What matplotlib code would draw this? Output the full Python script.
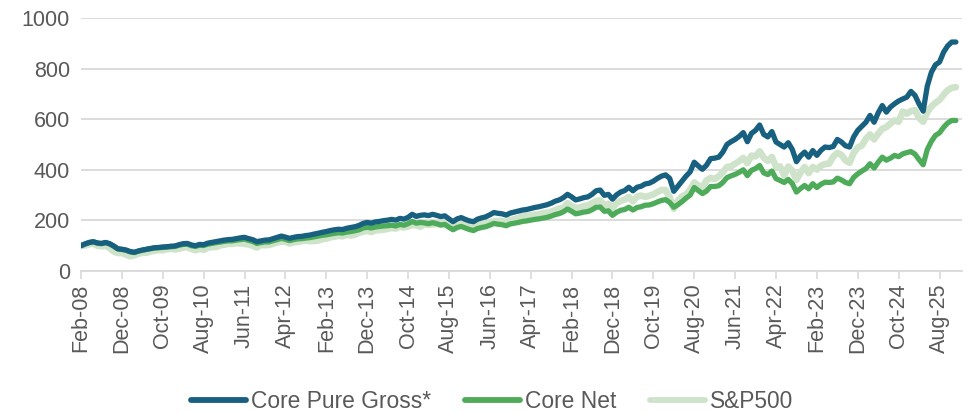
import matplotlib
matplotlib.use("Agg")
import matplotlib.pyplot as plt
import numpy as np

# Monthly categories Feb-08 .. Dec-25 (215 months)
start_year, start_month, n_months = 2008, 2, 215
month_names = ["Jan", "Feb", "Mar", "Apr", "May", "Jun", "Jul", "Aug", "Sep", "Oct", "Nov", "Dec"]

tick_labels = ["Feb-08", "Dec-08", "Oct-09", "Aug-10", "Jun-11", "Apr-12", "Feb-13", "Dec-13",
               "Oct-14", "Aug-15", "Jun-16", "Apr-17", "Feb-18", "Dec-18", "Oct-19", "Aug-20",
               "Jun-21", "Apr-22", "Feb-23", "Dec-23", "Oct-24", "Aug-25"]

core_pure_gross = [
    100, 107, 113, 116, 111, 109, 113, 108, 99, 88, 86,
    83, 77, 74, 79, 83, 86, 89, 92, 93, 95, 96, 98,
    99, 104, 108, 109, 103, 100, 105, 104, 110, 113, 116, 119,
    122, 124, 125, 128, 131, 133, 128, 124, 116, 119, 122, 123,
    128, 133, 138, 134, 129, 133, 136, 137, 140, 142, 146, 149,
    153, 156, 160, 163, 165, 164, 169, 172, 175, 180, 188, 192,
    189, 194, 196, 199, 201, 204, 201, 208, 205, 212, 224, 216,
    220, 222, 219, 224, 220, 215, 218, 206, 195, 206, 211, 204,
    198, 195, 205, 210, 214, 222, 231, 228, 226, 221, 229, 233,
    237, 241, 243, 247, 251, 254, 258, 262, 268, 276, 281, 290,
    303, 293, 281, 285, 290, 293, 303, 317, 320, 299, 303, 284,
    301, 312, 318, 331, 317, 331, 335, 344, 347, 355, 366, 375,
    380, 366, 315, 335, 355, 375, 392, 430, 415, 402, 418, 444,
    446, 450, 470, 500, 511, 520, 532, 547, 511, 544, 556, 577,
    540, 530, 551, 510, 500, 490, 507, 480, 432, 455, 470, 450,
    476, 457, 477, 490, 488, 492, 520, 510, 495, 490, 530, 556,
    572, 588, 615, 588, 625, 654, 628, 648, 661, 672, 680, 687,
    710, 694, 660, 632, 730, 785, 815, 826, 865, 890, 905, 905,
]

core_net = [
    100, 107, 112, 115, 110, 108, 112, 107, 98, 87, 85,
    82, 76, 73, 78, 82, 85, 88, 91, 92, 93, 94, 96,
    97, 102, 105, 106, 100, 97, 102, 101, 106, 109, 112, 114,
    117, 119, 119, 122, 124, 126, 121, 117, 109, 112, 115, 115,
    120, 124, 129, 125, 120, 124, 127, 128, 130, 132, 135, 138,
    141, 143, 146, 149, 151, 150, 154, 156, 159, 163, 170, 173,
    170, 174, 176, 178, 179, 181, 178, 184, 181, 187, 196, 189,
    192, 190, 187, 191, 187, 182, 184, 173, 163, 172, 176, 170,
    164, 160, 168, 172, 175, 181, 188, 185, 183, 179, 186, 189,
    192, 196, 198, 201, 204, 206, 209, 212, 217, 223, 227, 234,
    245, 236, 226, 229, 233, 235, 242, 252, 253, 236, 238, 220,
    232, 240, 243, 252, 241, 251, 254, 260, 261, 266, 273, 279,
    282, 271, 252, 262, 274, 288, 300, 330, 318, 306, 316, 334,
    334, 337, 350, 369, 376, 382, 390, 400, 377, 398, 405, 417,
    388, 381, 395, 365, 358, 350, 362, 345, 312, 326, 338, 325,
    345, 330, 343, 351, 350, 352, 367, 360, 350, 345, 370, 384,
    395, 405, 424, 407, 430, 450, 438, 446, 457, 452, 463, 468,
    472, 462, 440, 420, 480, 512, 536, 546, 568, 585, 595, 595,
]

sp500 = [
    100, 101, 106, 108, 100, 98, 99, 91, 77, 71, 71,
    65, 58, 62, 68, 72, 72, 77, 80, 83, 82, 86, 88,
    85, 88, 93, 94, 87, 82, 88, 84, 92, 95, 95, 101,
    104, 107, 107, 110, 109, 107, 105, 100, 93, 103, 102, 103,
    108, 113, 116, 116, 109, 113, 115, 118, 121, 118, 119, 120,
    126, 128, 133, 136, 139, 137, 144, 140, 144, 151, 155, 159,
    154, 161, 162, 163, 167, 170, 168, 175, 172, 176, 181, 181,
    175, 185, 182, 184, 186, 183, 187, 176, 171, 185, 186, 183,
    174, 174, 186, 186, 190, 190, 197, 198, 198, 194, 201, 205,
    209, 218, 218, 220, 223, 224, 229, 230, 235, 240, 247, 250,
    268, 257, 250, 251, 257, 259, 268, 277, 279, 260, 265, 248,
    268, 277, 282, 293, 275, 294, 298, 293, 297, 303, 312, 320,
    320, 292, 246, 278, 295, 303, 322, 350, 338, 330, 358, 368,
    364, 374, 391, 411, 414, 424, 434, 447, 426, 456, 453, 473,
    448, 435, 451, 412, 413, 378, 413, 396, 360, 389, 411, 387,
    411, 401, 416, 423, 424, 452, 467, 459, 437, 428, 467, 488,
    496, 522, 540, 520, 543, 562, 569, 583, 595, 590, 630, 622,
    632, 636, 605, 590, 628, 650, 665, 676, 697, 715, 724, 727,
]

series_names = ["Core Pure Gross*", "Core Net", "S&P500"]
colors = {"Core Pure Gross*": "#17607f", "Core Net": "#4eab5a", "S&P500": "#cfe3ca"}

FONT = ["Liberation Sans", "DejaVu Sans"]
plt.rcParams["font.family"] = FONT
TXT = "#595959"
GRID = "#d9d9d9"
FS = 15.5

# category labels
categories = []
for i in range(n_months):
    mm = (start_month - 1 + i) % 12
    yy = start_year + (start_month - 1 + i) // 12
    categories.append(f"{month_names[mm]}-{yy % 100:02d}")
x = np.arange(len(categories))

fig = plt.figure(figsize=(9.69, 4.13), dpi=100)
ax = fig.add_axes([81 / 969, (413 - 271) / 413, (962 - 81) / 969, 253 / 413])

l3, = ax.plot(x, sp500, color=colors["S&P500"], lw=4.8, solid_capstyle="round",
              solid_joinstyle="round", zorder=3)
l2, = ax.plot(x, core_net, color=colors["Core Net"], lw=3.8, solid_capstyle="round",
              solid_joinstyle="round", zorder=4)
l1, = ax.plot(x, core_pure_gross, color=colors["Core Pure Gross*"], lw=3.8, solid_capstyle="round",
              solid_joinstyle="round", zorder=5)

ax.set_xlim(0, 215.5)
ax.set_ylim(0, 1000)
ax.set_yticks(np.arange(0, 1001, 200))
tick_pos = [categories.index(t) for t in tick_labels]
ax.set_xticks(tick_pos)
ax.set_xticklabels(tick_labels, rotation=90, fontsize=FS, color=TXT)
ax.tick_params(axis="x", direction="out", length=6, width=1.2, color=GRID, pad=3)
ax.tick_params(axis="y", length=0, pad=8, labelsize=FS, labelcolor=TXT)
ax.grid(axis="y", color=GRID, lw=1.3, zorder=0)
ax.set_axisbelow(True)
for s in ["top", "right", "left"]:
    ax.spines[s].set_visible(False)
ax.spines["bottom"].set_color(GRID)
ax.spines["bottom"].set_linewidth(1.3)

fig.legend([l1, l2, l3], series_names, loc="center", bbox_to_anchor=(0.508, 0.028),
           ncol=3, frameon=False, fontsize=16.4, labelcolor=TXT, handlelength=2.4,
           handletextpad=0.22, columnspacing=1.5)
for h in fig.legends[0].get_lines():
    h.set_linewidth(4.2)

fig.savefig("out.png", dpi=100)
